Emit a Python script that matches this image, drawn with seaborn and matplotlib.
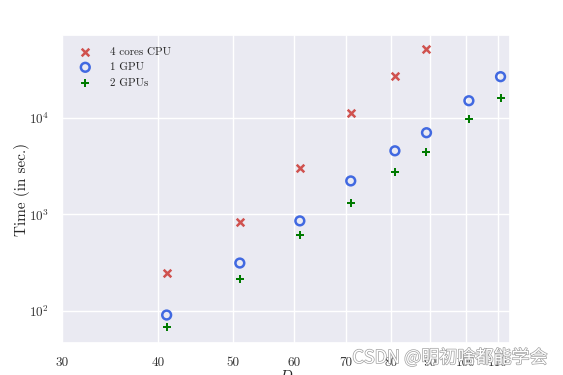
import numpy as np
import pandas as pd
import seaborn as sns
import matplotlib
matplotlib.use("Agg")
import matplotlib.pyplot as plt
import matplotlib.patheffects as pe

D_cpu = [41, 51, 61, 71, 81, 89]
t_cpu = [248, 836, 3030, 11300, 27200, 51900]
D_gpu = [41, 51, 61, 71, 81, 89, 101, 111]
t_gpu1 = [91, 314, 857, 2220, 4550, 7000, 15000, 26600]
t_gpu2 = [68, 215, 614, 1315, 2750, 4450, 9750, 16100]
xticks = [30, 40, 50, 60, 70, 80, 90, 100, 110]
series_labels = ["4 cores CPU", "1 GPU", "2 GPUs"]

sns.set_theme(style="darkgrid")
plt.rcParams['font.family'] = ['cmr10', 'DejaVu Serif']
plt.rcParams['mathtext.fontset'] = 'cm'
plt.rcParams['axes.formatter.use_mathtext'] = True

fig = plt.figure(figsize=(5.63, 3.75), dpi=100)
ax = fig.add_axes([0.110, 0.085, 0.796, 0.822])

df_cpu = pd.DataFrame({"D": D_cpu, "t": t_cpu})
df_gpu = pd.DataFrame({"D": D_gpu, "t1": t_gpu1, "t2": t_gpu2})

sns.scatterplot(data=df_cpu, x="D", y="t", ax=ax, marker="x", color="#d0524f",
                s=30, linewidth=1.8, label=series_labels[0])
sns.scatterplot(data=df_gpu, x="D", y="t1", ax=ax, marker="o", facecolor="none",
                edgecolor="#4169e1", s=40, linewidth=1.8, label=series_labels[1])
sns.scatterplot(data=df_gpu, x="D", y="t2", ax=ax, marker="P", color="#007a00",
                s=30, linewidth=0, label=series_labels[2])

ax.set_xscale("log")
ax.set_yscale("log")
ax.set_xlim(30, 114.2)
ax.set_ylim(46.6, 72000)
ax.set_xticks(xticks)
ax.set_xticklabels([str(v) for v in xticks])
ax.xaxis.set_minor_locator(matplotlib.ticker.NullLocator())
ax.yaxis.set_minor_locator(matplotlib.ticker.NullLocator())
ax.tick_params(labelsize=9.5, colors="#333333")
ax.tick_params(axis="x", pad=4)
ax.set_xlabel("$D$", fontsize=11, labelpad=0)
ax.set_ylabel("Time (in sec.)", fontsize=11, labelpad=-1)

leg = ax.legend(loc="upper left", frameon=False, fontsize=8, handletextpad=1.2,
                borderaxespad=0.6, borderpad=0.5)

fig.text(0.972, 0.046, "CSDN @明初啥都能学会", ha="right", va="center",
         fontsize=13, color="white",
         family=["Noto Sans CJK SC", "DejaVu Sans"],
         path_effects=[pe.withStroke(linewidth=1.0, foreground="#a0a0a0")])

fig.savefig("out.png", dpi=100)
